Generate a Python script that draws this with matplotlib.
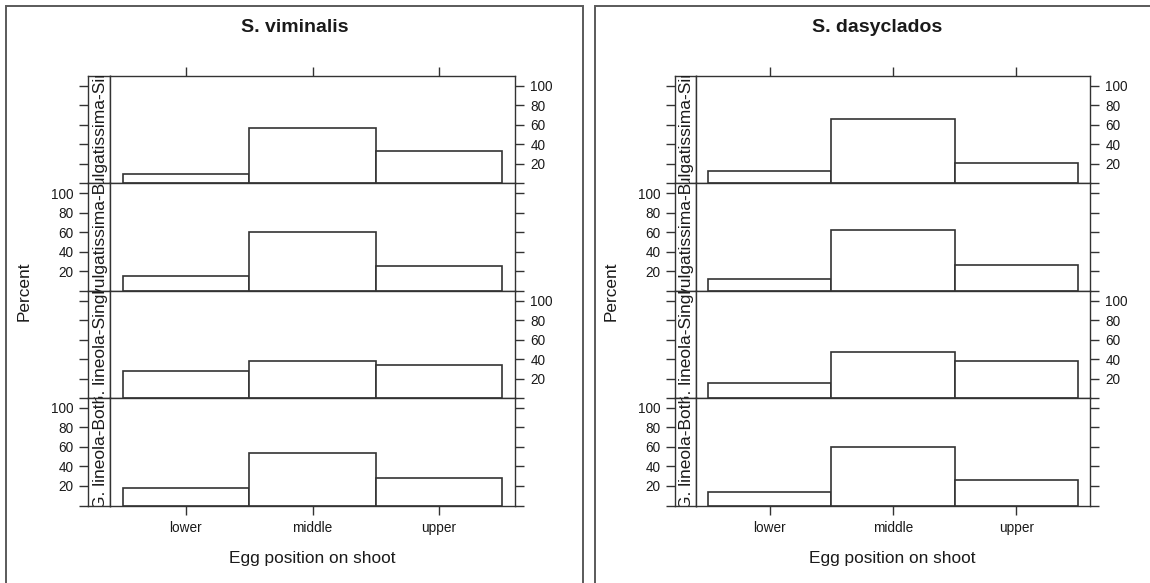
import matplotlib
matplotlib.use('Agg')
import matplotlib.pyplot as plt
import numpy as np
from matplotlib.patches import Rectangle

plt.rcParams['font.family'] = ['Liberation Sans', 'DejaVu Sans']

# ---------------- data ----------------
positions = ['lower', 'middle', 'upper']
groups = ['P. vulgatissima-Single', 'P. vulgatissima-Both',
          'G. lineola-Single', 'G. lineola-Both']          # top to bottom
hosts = ['S. viminalis', 'S. dasyclados']
viminalis = [[10, 57, 33], [15, 60, 25], [28, 38, 34], [18, 54, 28]]
dasyclados = [[13, 66, 21], [12, 62, 26], [15, 47, 38], [14, 60, 26]]
host_values = [viminalis, dasyclados]
yticks = [0, 20, 40, 60, 80, 100]
ytick_labels = ['', '20', '40', '60', '80', '100']
xlabel = 'Egg position on shoot'
ylabel = 'Percent'

# ---------------- layout (pixels) ----------------
W, H = 1150, 583
fig = plt.figure(figsize=(W / 100, H / 100), dpi=100)
fig.patch.set_facecolor('white')

LINE = '#333333'
TXT = '#1a1a1a'

def frect(x0, y0, x1, y1):
    return [x0 / W, 1 - y1 / H, (x1 - x0) / W, (y1 - y0) / H]

layouts = [
    dict(strip_left=88, panel_left=110, panel_right=515, title_x=295, xlab_x=312, ylab_x=24),
    dict(strip_left=675, panel_left=696, panel_right=1090, title_x=877, xlab_x=892, ylab_x=611),
]
top, bottom = 76, 505.5
rh = (bottom - top) / 4
tick_len = 6.5
x = np.arange(1, len(positions) + 1)

for h, (host, vals, L) in enumerate(zip(hosts, host_values, layouts)):
    for r in range(4):
        y0 = top + r * rh
        y1 = y0 + rh
        # strip
        sax = fig.add_axes(frect(L['strip_left'], y0, L['panel_left'], y1))
        sax.set_xlim(0, 1)
        sax.set_ylim(0, 110)
        sax.set_xticks([])
        sax.set_yticks(yticks)
        sax.set_yticklabels(ytick_labels if r in (1, 3) else [''] * len(yticks))
        sax.tick_params(axis='y', direction='out', length=tick_len, width=1.0,
                        color=LINE, labelsize=9.8, labelcolor=TXT, pad=4)
        for sp in sax.spines.values():
            sp.set_color(LINE)
            sp.set_linewidth(1.0)
        t = sax.text(0.55, 0.5, groups[r], rotation=90, ha='center', va='center',
                     fontsize=12.5, color=TXT, transform=sax.transAxes)
        t.set_clip_box(sax.bbox)
        t.set_clip_on(True)

        # panel
        ax = fig.add_axes(frect(L['panel_left'], y0, L['panel_right'], y1))
        ax.bar(x, vals[r], width=1.0, facecolor='white', edgecolor=LINE, linewidth=1.2)
        ax.set_xlim(0.4, 3.6)
        ax.set_ylim(0, 110)
        ax.yaxis.tick_right()
        ax.set_yticks(yticks)
        ax.set_yticklabels(ytick_labels if r in (0, 2) else [''] * len(yticks))
        ax.tick_params(axis='y', direction='out', length=tick_len, width=1.0,
                       color=LINE, labelsize=9.8, labelcolor=TXT, pad=4.5)
        ax.set_xticks(x)
        if r == 0:
            ax.xaxis.tick_top()
            ax.set_xticklabels([''] * len(positions))
            ax.tick_params(axis='x', direction='out', length=tick_len, width=1.0, color=LINE)
        elif r == 3:
            ax.set_xticklabels(positions)
            ax.tick_params(axis='x', direction='out', length=tick_len, width=1.0, color=LINE,
                           labelsize=9.8, labelcolor=TXT, pad=5)
        else:
            ax.tick_params(axis='x', length=0, labelbottom=False)
        for sp in ax.spines.values():
            sp.set_color(LINE)
            sp.set_linewidth(1.0)

    fig.text(L['title_x'] / W, 1 - 27 / H, host, ha='center', va='center',
             fontsize=14, fontweight='bold', color=TXT)
    fig.text(L['xlab_x'] / W, 1 - 559 / H, xlabel, ha='center', va='center',
             fontsize=12.4, color=TXT)
    fig.text(L['ylab_x'] / W, 1 - 291 / H, ylabel, ha='center', va='center',
             rotation=90, fontsize=12.4, color=TXT)

# outer frames
for x0, x1 in [(6, 583), (595, 1170)]:
    fig.add_artist(Rectangle((x0 / W, -0.05), (x1 - x0) / W, (1 - 6 / H) + 0.05,
                             transform=fig.transFigure, fill=False,
                             edgecolor='#5a5a5a', linewidth=1.4, clip_on=False))

fig.savefig('out.png', dpi=100, facecolor='white')
